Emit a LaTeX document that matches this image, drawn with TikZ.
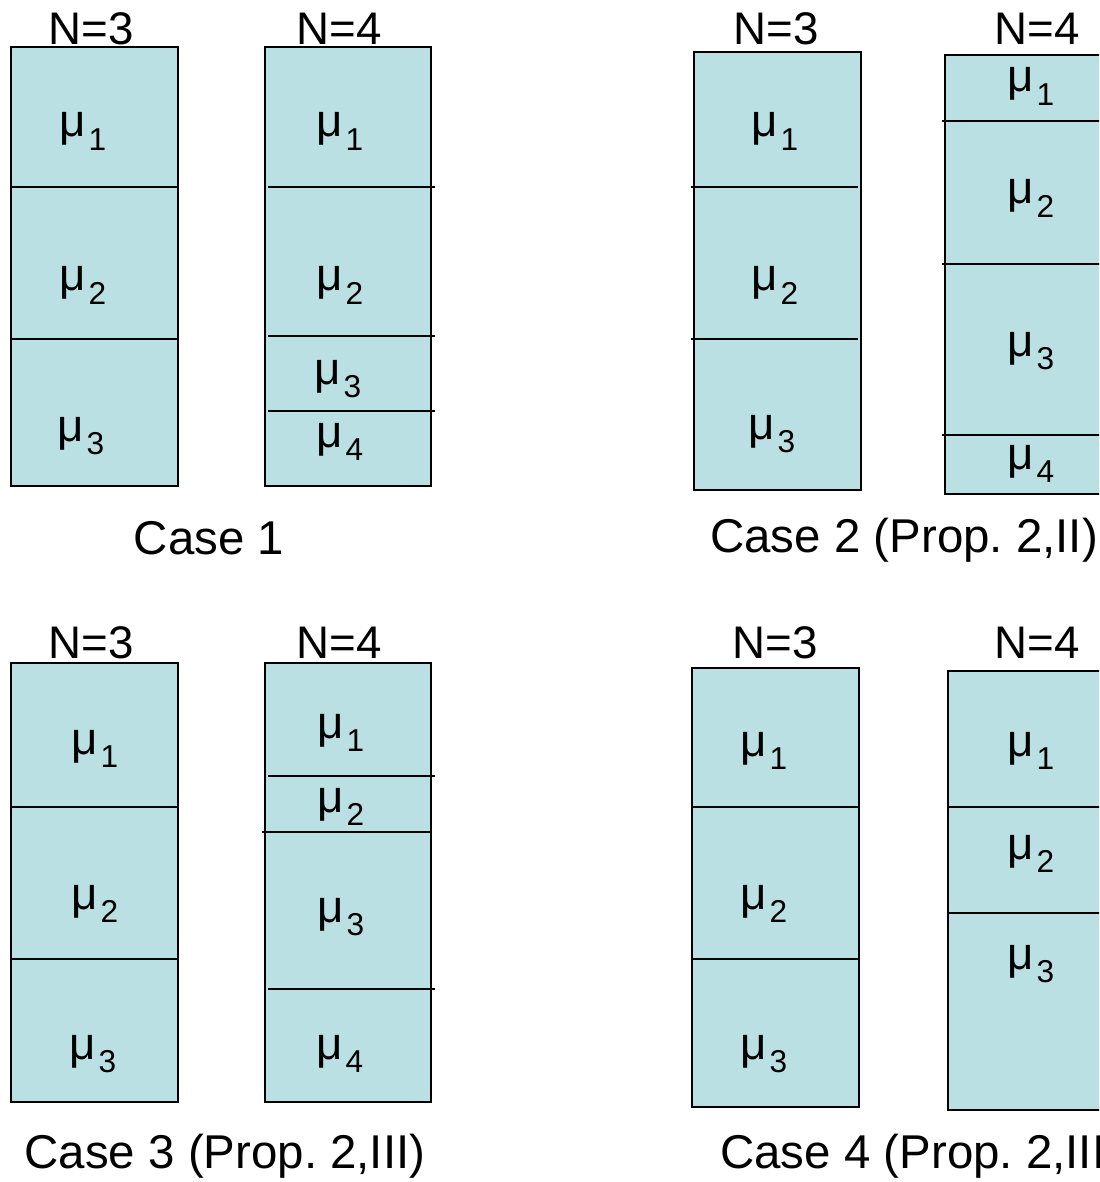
\documentclass[tikz,border=0pt]{standalone}
\usepackage{fontspec}
\setmainfont{Liberation Sans}
\usepackage{tikz}
\usepackage{xcolor}
\definecolor{cellblue}{RGB}{186, 224, 227}
\newcommand{\mub}[1]{μ\hspace{1.5pt}\raisebox{-7.5pt}{\fontsize{18}{18}\selectfont #1}}
\frenchspacing

\begin{document}
\begin{tikzpicture}[x=0.02cm, y=-0.02cm, font=\fontsize{26}{30}\selectfont,
    cell/.style={draw, fill=cellblue, line width=1.1pt},
    divider/.style={line width=1.1pt},
    lab/.style={anchor=base, inner sep=0pt},
    caselab/.style={anchor=base, inner sep=0pt, font=\fontsize{27}{31}\selectfont}]
    \useasboundingbox (0,0) rectangle (1099,1182);
    \clip (0,0) rectangle (1099,1182);

    % Case 1
    \draw[cell] (11,47) rectangle (178,486);
    \draw[divider] (11,187) -- (178,187);
    \draw[divider] (11,339) -- (178,339);
    \node[lab] (c1n3) at (91,45) {N=3};
    \node[lab] (c1a1) at (83,137) {\mub{1}};
    \node[lab] (c1a2) at (83,291) {\mub{2}};
    \node[lab] (c1a3) at (81,441) {\mub{3}};
    \draw[cell] (265,47) rectangle (431,486);
    \draw[divider] (268,187) -- (435,187);
    \draw[divider] (268,336) -- (435,336);
    \draw[divider] (268,411) -- (435,411);
    \node[lab] (c1n4) at (339,45) {N=4};
    \node[lab] (c1b1) at (340,137) {\mub{1}};
    \node[lab] (c1b2) at (340,291) {\mub{2}};
    \node[lab] (c1b3) at (338,384) {\mub{3}};
    \node[lab] (c1b4) at (340,447) {\mub{4}};
    \node[caselab] (case1) at (209,554) {Case 1};

    % Case 2
    \draw[cell] (694,52) rectangle (861,490);
    \draw[divider] (691,187) -- (858,187);
    \draw[divider] (691,339) -- (858,339);
    \node[lab] (c2n3) at (776,45) {N=3};
    \node[lab] (c2a1) at (775,137) {\mub{1}};
    \node[lab] (c2a2) at (775,291) {\mub{2}};
    \node[lab] (c2a3) at (772,439) {\mub{3}};
    \draw[cell] (945,55) rectangle (1114,494);
    \draw[divider] (942,121) -- (1114,121);
    \draw[divider] (942,264) -- (1114,264);
    \draw[divider] (942,435) -- (1114,435);
    \node[lab] (c2n4) at (1037,45) {N=4};
    \node[lab] (c2b1) at (1031,92) {\mub{1}};
    \node[lab] (c2b2) at (1031,204) {\mub{2}};
    \node[lab] (c2b3) at (1031,356) {\mub{3}};
    \node[lab] (c2b4) at (1031,469) {\mub{4}};
    \node[caselab, anchor=base west] (case2) at (710,552) {Case 2 (Prop. 2,II)};

    % Case 3
    \draw[cell] (11,663) rectangle (178,1102);
    \draw[divider] (11,807) -- (178,807);
    \draw[divider] (11,959) -- (178,959);
    \node[lab] (c3n3) at (91,658) {N=3};
    \node[lab] (c3a1) at (95,754) {\mub{1}};
    \node[lab] (c3a2) at (95,909) {\mub{2}};
    \node[lab] (c3a3) at (93,1059) {\mub{3}};
    \draw[cell] (265,663) rectangle (431,1102);
    \draw[divider] (268,776) -- (435,776);
    \draw[divider] (262,832) -- (431,832);
    \draw[divider] (268,989) -- (435,989);
    \node[lab] (c3n4) at (339,658) {N=4};
    \node[lab] (c3b1) at (341,738) {\mub{1}};
    \node[lab] (c3b2) at (341,812) {\mub{2}};
    \node[lab] (c3b3) at (341,922) {\mub{3}};
    \node[lab] (c3b4) at (340,1059) {\mub{4}};
    \node[caselab] (case3) at (225,1168) {Case 3 (Prop. 2,III)};

    % Case 4
    \draw[cell] (692,668) rectangle (859,1107);
    \draw[divider] (692,807) -- (859,807);
    \draw[divider] (692,959) -- (859,959);
    \node[lab] (c4n3) at (775,658) {N=3};
    \node[lab] (c4a1) at (764,756) {\mub{1}};
    \node[lab] (c4a2) at (764,909) {\mub{2}};
    \node[lab] (c4a3) at (764,1059) {\mub{3}};
    \draw[cell] (948,671) rectangle (1117,1110);
    \draw[divider] (948,807) -- (1117,807);
    \draw[divider] (948,913) -- (1117,913);
    \node[lab] (c4n4) at (1037,658) {N=4};
    \node[lab] (c4b1) at (1031,756) {\mub{1}};
    \node[lab] (c4b2) at (1031,859) {\mub{2}};
    \node[lab] (c4b3) at (1031,969) {\mub{3}};
    \node[caselab, anchor=base west] (case4) at (720,1168) {Case 4 (Prop. 2,III)};
\end{tikzpicture}
\end{document}
